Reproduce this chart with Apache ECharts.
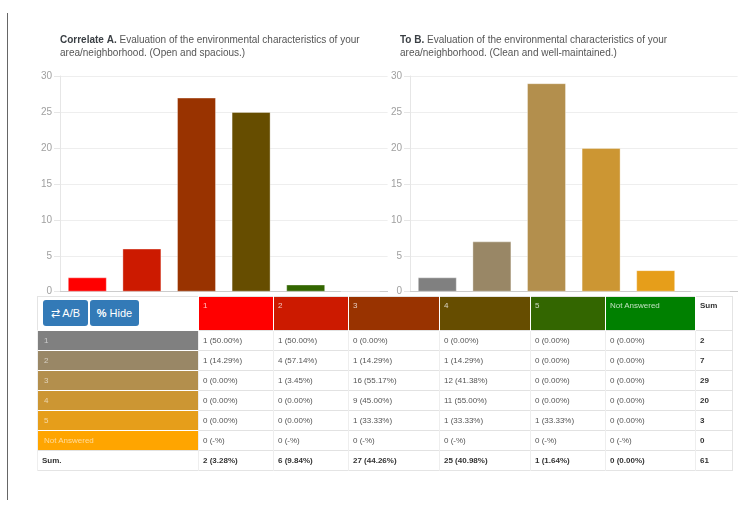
<!DOCTYPE html>
<html>
<head>
<meta charset="utf-8">
<script src="https://cdn.jsdelivr.net/npm/echarts@6.0.0/dist/echarts.min.js"></script>
<style>
  html, body { margin:0; padding:0; background:#fff; }
  body { width:755px; height:505px; position:relative; overflow:hidden; font-family:"Liberation Sans", Arial, sans-serif; }
  #chart { position:absolute; left:0; top:0; width:755px; height:505px; }
  #vline { position:absolute; left:7px; top:13px; width:1px; height:487px; background:#666; }
  #tbl { position:absolute; left:37px; top:296px; border-collapse:collapse; table-layout:fixed; border:1px solid #e4e4e4; }
  #tbl td { box-sizing:border-box; padding:0 0 0 4px; height:20px; font-size:8px; color:#555; border-top:1px solid #e2e2e2; border-left:1px solid #eee; white-space:nowrap; overflow:hidden; vertical-align:middle; }
  #tbl tr.head td { height:34px; vertical-align:top; padding-top:4px; color:rgba(255,255,255,0.75); border-left:1px solid rgba(255,255,255,0.35); border-top:none; }
  #tbl tr.head td.btns { padding:3px 0 0 5px; background:#fff; border-left:none; }
  #tbl tr.head td.sumh { color:#333; font-weight:bold; background:#fff; }
  #tbl td.rh { color:rgba(255,255,255,0.6); padding-left:6px; border-top:1px solid rgba(255,255,255,0.35); }
  #tbl tr.sum td { font-weight:bold; color:#333; }
  #tbl td.sumc { font-weight:bold; color:#333; }
  .btn { display:inline-block; box-sizing:border-box; height:26px; line-height:26px; background:#337ab7; color:#fff; font-size:11px; border-radius:3px; text-align:center; vertical-align:top; }
</style>
</head>
<body>
<div id="vline"></div>
<div id="chart"></div>
<table id="tbl"></table>
<script>
// ---- data ----
var categories = ['1', '2', '3', '4', '5', 'Not Answered'];
var valuesA = [2, 6, 27, 25, 1, 0];
var valuesB = [2, 7, 29, 20, 3, 0];
var colorsA = ['#ff0000', '#cc1a00', '#993300', '#664d00', '#336600', '#008000'];
var colorsB = ['#808080', '#998766', '#b38f4d', '#cc9633', '#e69e1a', '#ffa500'];
var yTicks = [0, 5, 10, 15, 20, 25, 30];
// cross table: rows = B answers, columns = A answers
var row1 = [1, 1, 0, 0, 0, 0];
var row2 = [1, 4, 1, 1, 0, 0];
var row3 = [0, 1, 16, 12, 0, 0];
var row4 = [0, 0, 9, 11, 0, 0];
var row5 = [0, 0, 1, 1, 1, 0];
var rowNA = [0, 0, 0, 0, 0, 0];
var crossRows = [row1, row2, row3, row4, row5, rowNA];
var titleA = ['Correlate A.', 'Evaluation of the environmental characteristics of your', 'area/neighborhood. (Open and spacious.)'];
var titleB = ['To B.', 'Evaluation of the environmental characteristics of your', 'area/neighborhood. (Clean and well-maintained.)'];

// ---- chart ----
var chart = echarts.init(document.getElementById('chart'), null, { renderer: 'canvas' });
function yAxis(idx) {
  return {
    type: 'value', gridIndex: idx, min: yTicks[0], max: yTicks[yTicks.length - 1], interval: yTicks[1] - yTicks[0],
    axisLine: { show: true, lineStyle: { color: '#e6e6e6' } },
    axisTick: { show: true, length: 6, lineStyle: { color: '#e6e6e6' } },
    splitLine: { show: true, lineStyle: { color: '#eeeeee' } },
    axisLabel: { color: '#a0a0a0', fontSize: 10, margin: 8, fontFamily: 'Liberation Sans' }
  };
}
function xAxis(idx) {
  return {
    type: 'category', gridIndex: idx, data: categories,
    axisLine: { show: true, lineStyle: { color: '#cccccc' } },
    axisTick: { show: false }, axisLabel: { show: false }
  };
}
function barData(vals, cols) {
  return vals.map(function (v, i) {
    return { value: v, itemStyle: { color: cols[i] } };
  });
}
function titleText(t) {
  return '{b|' + t[0] + '} {n|' + t[1] + '}\n{n|' + t[2] + '}';
}
var rich = {
  b: { fontWeight: 'bold', color: '#3a3f44', fontSize: 10, fontFamily: 'Liberation Sans', lineHeight: 13 },
  n: { fontWeight: 'normal', color: '#555', fontSize: 10, fontFamily: 'Liberation Sans', lineHeight: 13 }
};
chart.setOption({
  animation: false,
  title: [
    { left: 60, top: 34, text: titleText(titleA), padding: 0, textStyle: { rich: rich, fontSize: 10, fontWeight: 'normal' } },
    { left: 400, top: 34, text: titleText(titleB), padding: 0, textStyle: { rich: rich, fontSize: 10, fontWeight: 'normal' } }
  ],
  grid: [
    { left: 60, top: 76, width: 327.6, height: 215.7 },
    { left: 410, top: 76, width: 327.6, height: 215.7 }
  ],
  xAxis: [xAxis(0), xAxis(1)],
  yAxis: [yAxis(0), yAxis(1)],
  series: [
    { type: 'bar', xAxisIndex: 0, yAxisIndex: 0, barWidth: 39, data: barData(valuesA, colorsA),
      itemStyle: { borderWidth: 1, borderColor: 'rgba(255,255,255,0.35)' } },
    { type: 'bar', xAxisIndex: 1, yAxisIndex: 1, barWidth: 39, data: barData(valuesB, colorsB),
      itemStyle: { borderWidth: 1, borderColor: 'rgba(255,255,255,0.35)' } }
  ]
});

// ---- table ----
var colWidths = [161, 75, 75, 91, 91, 75, 90, 37];
var tbl = document.getElementById('tbl');
var html = '<colgroup>' + colWidths.map(function (w) { return '<col style="width:' + w + 'px">'; }).join('') + '</colgroup>';
html += '<tr class="head"><td class="btns"><span class="btn" style="width:45px">&#8644; A/B</span><span class="btn" style="width:49px;margin-left:2px"><b>%</b> Hide</span></td>';
categories.forEach(function (c, i) {
  html += '<td style="background:' + colorsA[i] + '">' + c + '</td>';
});
html += '<td class="sumh">Sum</td></tr>';
var total = 0;
crossRows.forEach(function (r) { r.forEach(function (v) { total += v; }); });
crossRows.forEach(function (r, ri) {
  var rs = r.reduce(function (a, b) { return a + b; }, 0);
  html += '<tr><td class="rh" style="background:' + colorsB[ri] + '">' + categories[ri] + '</td>';
  r.forEach(function (v) {
    html += '<td>' + v + ' (' + (rs ? (v / rs * 100).toFixed(2) : '-') + '%)</td>';
  });
  html += '<td class="sumc">' + rs + '</td></tr>';
});
html += '<tr class="sum"><td>Sum.</td>';
categories.forEach(function (c, ci) {
  var cs = 0;
  crossRows.forEach(function (r) { cs += r[ci]; });
  html += '<td>' + cs + ' (' + (cs / total * 100).toFixed(2) + '%)</td>';
});
html += '<td>' + total + '</td></tr>';
tbl.innerHTML = html;
</script>
</body>
</html>
